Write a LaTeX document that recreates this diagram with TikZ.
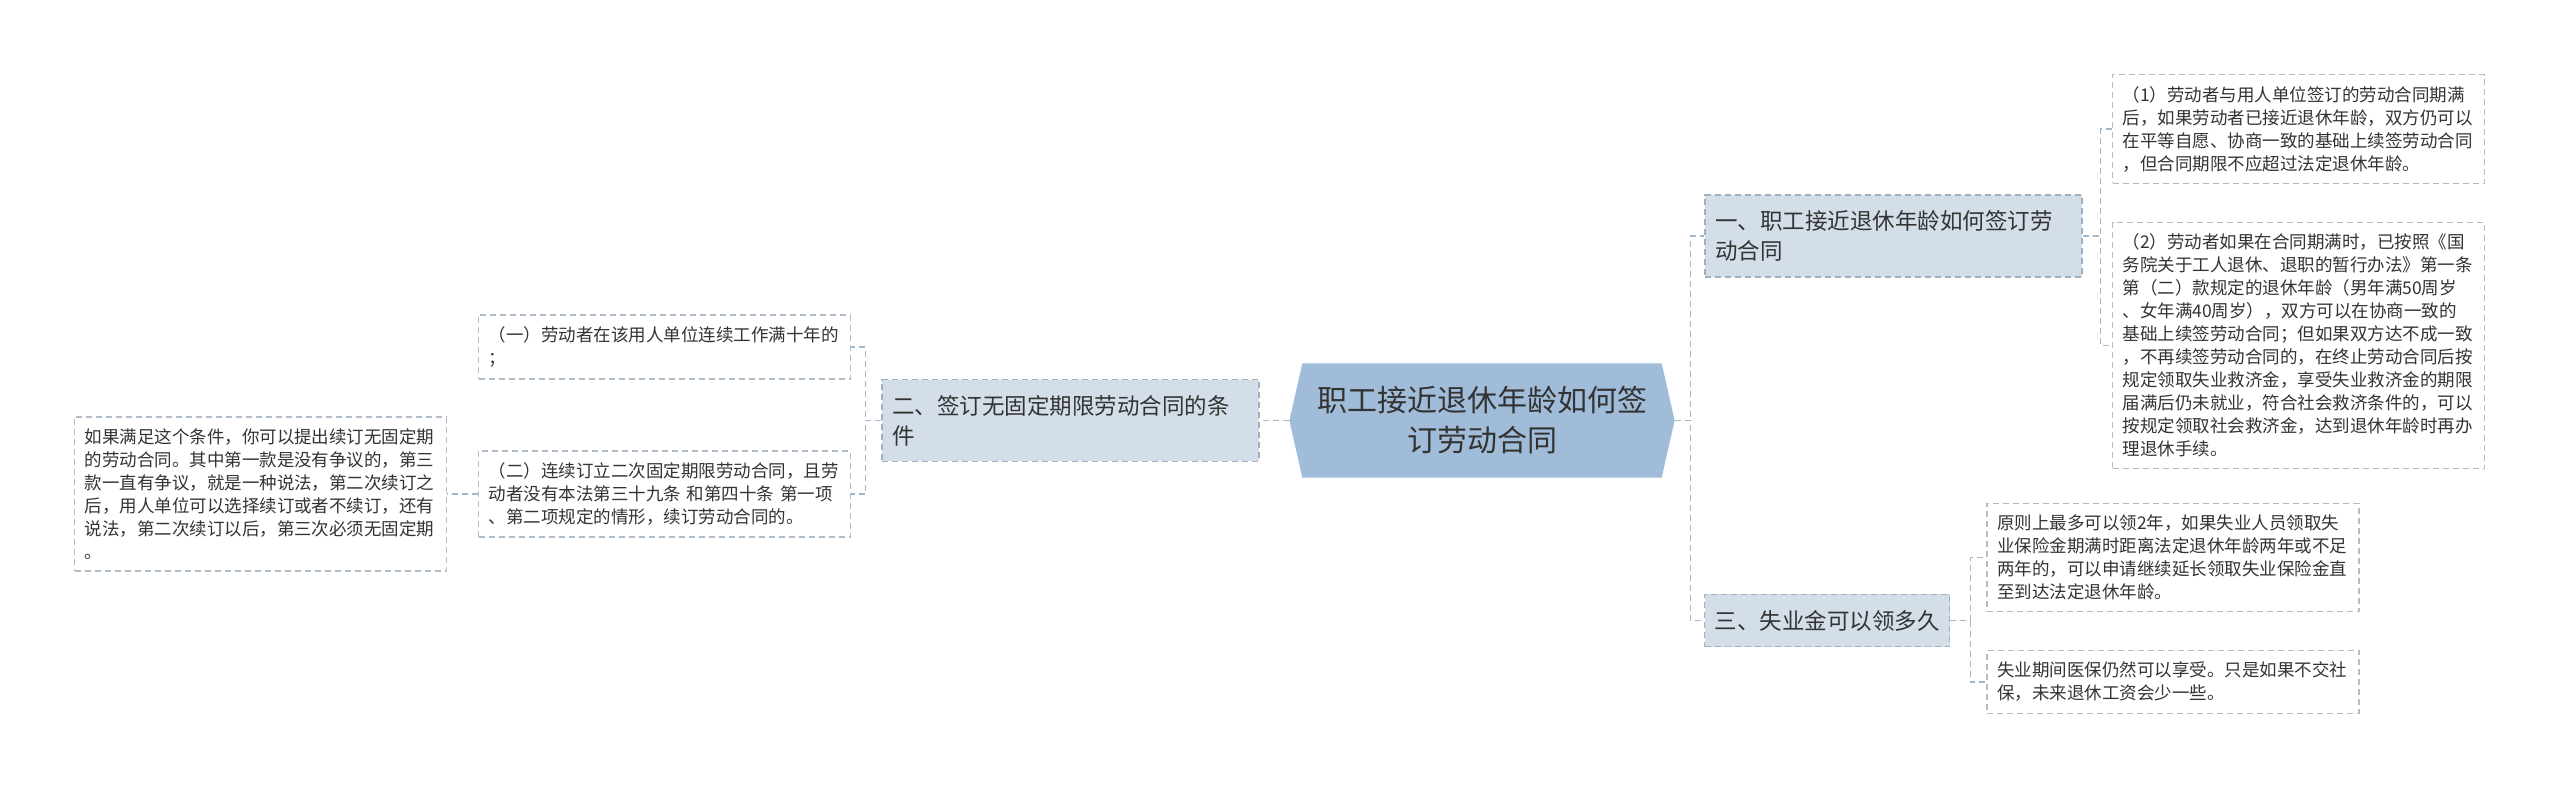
\documentclass[tikz,border=0pt]{standalone}
\usepackage{fontspec}
\setmainfont{Noto Sans CJK SC}
\usetikzlibrary{backgrounds}

\definecolor{txt}{HTML}{333333}
\definecolor{rootfill}{HTML}{A0BCD8}
\definecolor{subfill}{HTML}{D3DEE8}
\definecolor{subline}{HTML}{9EB0C2}
\definecolor{leafline}{HTML}{B0BCC8}
\definecolor{linkline}{HTML}{A4B8CC}

\begin{document}
\begin{tikzpicture}[x=1pt,y=-1pt,line width=1.3pt,
  roottext/.style={text=txt,align=center,minimum width=384pt,minimum height=113pt,
    inner sep=0pt,font=\fontsize{30}{40}\selectfont},
  sub/.style={draw=subline,dash pattern=on 6pt off 4pt,fill=subfill,text=txt,align=left,
    inner xsep=10pt,inner ysep=15.5pt,font=\fontsize{22.5}{30}\selectfont},
  leaf/.style={draw=leafline,dash pattern=on 6pt off 4pt,fill=white,text=txt,align=left,
    text width=352pt,inner xsep=10pt,inner ysep=11.5pt,font=\fontsize{17.5}{23}\selectfont},
  link/.style={draw=linkline,dash pattern=on 6pt off 4pt}]
  \useasboundingbox (0,0) rectangle (2560,789);

  % 中心主题
  \node[roottext] (root) at (1482,420.5) {职工接近退休年龄如何签\\订劳动合同};
  \begin{scope}[on background layer]
    \fill[rootfill] (root.west) -- ([xshift=13pt]root.north west) -- ([xshift=-13pt]root.north east)
      -- (root.east) -- ([xshift=-13pt]root.south east) -- ([xshift=13pt]root.south west) -- cycle;
  \end{scope}

  % 分支
  \node[sub,text width=357pt] (b1) at (1893.5,236) {一、职工接近退休年龄如何签订劳\\动合同};
  \node[sub,text width=357pt] (b2) at (1070.5,420.5) {二、签订无固定期限劳动合同的条\\件};
  \node[sub] (b3) at (1827,620.5) {三、失业金可以领多久};

  % 右侧内容
  \node[leaf] (b1a) at (2298.5,129) {（1）劳动者与用人单位签订的劳动合同期满\\后，如果劳动者已接近退休年龄，双方仍可以\\在平等自愿、协商一致的基础上续签劳动合同\\，但合同期限不应超过法定退休年龄。};
  \node[leaf] (b1b) at (2298.5,345.5) {（2）劳动者如果在合同期满时，已按照《国\\务院关于工人退休、退职的暂行办法》第一条\\第（二）款规定的退休年龄（男年满50周岁\\、女年满40周岁），双方可以在协商一致的\\基础上续签劳动合同；但如果双方达不成一致\\，不再续签劳动合同的，在终止劳动合同后按\\规定领取失业救济金，享受失业救济金的期限\\届满后仍未就业，符合社会救济条件的，可以\\按规定领取社会救济金，达到退休年龄时再办\\理退休手续。};
  \node[leaf] (b3a) at (2173,557.5) {原则上最多可以领2年，如果失业人员领取失\\业保险金期满时距离法定退休年龄两年或不足\\两年的，可以申请继续延长领取失业保险金直\\至到达法定退休年龄。};
  \node[leaf] (b3b) at (2173,682) {失业期间医保仍然可以享受。只是如果不交社\\保，未来退休工资会少一些。};

  % 左侧内容
  \node[leaf] (b2a) at (664.5,347) {（一）劳动者在该用人单位连续工作满十年的\\；};
  \node[leaf] (b2b) at (664.5,494) {（二）连续订立二次固定期限劳动合同，且劳\\动者没有本法第三十九条 和第四十条 第一项\\、第二项规定的情形，续订劳动合同的。};
  \node[leaf] (b2c) at (260.5,494) {如果满足这个条件，你可以提出续订无固定期\\的劳动合同。其中第一款是没有争议的，第三\\款一直有争议，就是一种说法，第二次续订之\\后，用人单位可以选择续订或者不续订，还有\\说法，第二次续订以后，第三次必须无固定期\\。};

  % 连线
  \draw[link] (root.east) -- ++(16,0) |- (b1.west);
  \draw[link] (root.east) -- ++(16,0) |- (b3.west);
  \draw[link] (b1.east) -- ++(18,0) |- (b1a.west);
  \draw[link] (b1.east) -- ++(18,0) |- (b1b.west);
  \draw[link] (b3.east) -- ++(20,0) |- (b3a.west);
  \draw[link] (b3.east) -- ++(20,0) |- (b3b.west);
  \draw[link] (root.west) -- (b2.east);
  \draw[link] (b2.west) -- ++(-16,0) |- (b2a.east);
  \draw[link] (b2.west) -- ++(-16,0) |- (b2b.east);
  \draw[link] (b2b.west) -- (b2c.east);
\end{tikzpicture}
\end{document}
